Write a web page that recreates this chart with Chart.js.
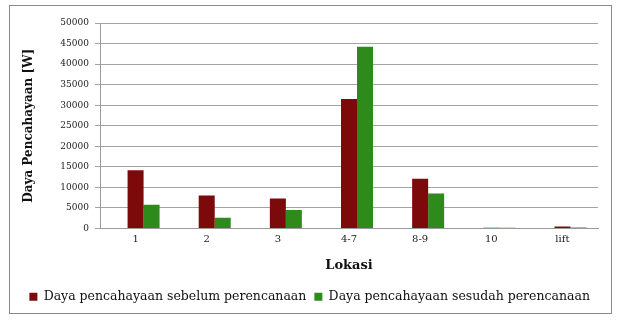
<!DOCTYPE html>
<html><head><meta charset="utf-8">
<script src="https://cdn.jsdelivr.net/npm/chart.js@4/dist/chart.umd.min.js"></script>
<style>html,body{margin:0;padding:0;background:#fff}#wrap{width:621px;height:322px}</style>
</head><body><div id="wrap"><canvas id="c" width="621" height="322"></canvas></div>
<script>
const categories = ['1', '2', '3', '4-7', '8-9', '10', 'lift'];
const sebelum = [14200, 8000, 7300, 31500, 12100, 200, 500];
const sesudah = [5800, 2600, 4500, 44200, 8500, 200, 250];
const spacer = [null, null, null, null, null, null, null];
const seriesNames = ['Daya pencahayaan sebelum perencanaan', 'Daya pencahayaan sesudah perencanaan'];
const yTicks = [0, 5000, 10000, 15000, 20000, 25000, 30000, 35000, 40000, 45000, 50000];

Chart.defaults.font.family = 'DejaVu Serif';

const borderPlugin = {
  id: 'outerBorder',
  beforeDraw(chart) {
    const ctx = chart.ctx;
    ctx.save();
    ctx.fillStyle = '#fff';
    ctx.fillRect(0, 0, chart.width, chart.height);
    ctx.strokeStyle = '#8a8a8a';
    ctx.lineWidth = 1;
    ctx.strokeRect(9.5, 5.5, 602, 308);
    ctx.restore();
  }
};

new Chart(document.getElementById('c'), {
  type: 'bar',
  data: {
    labels: categories,
    datasets: [
      { label: 'spacer', data: spacer, backgroundColor: 'rgba(0,0,0,0)' },
      { label: seriesNames[0], data: sebelum, backgroundColor: '#7c0a0a' },
      { label: seriesNames[1], data: sesudah, backgroundColor: '#2f8a1c' }
    ]
  },
  options: {
    responsive: false,
    animation: false,
    devicePixelRatio: 1,
    layout: { padding: { left: 6, right: 23, top: 23, bottom: 9 } },
    datasets: { bar: { categoryPercentage: 0.675, barPercentage: 1.0 } },
    plugins: {
      legend: {
        position: 'bottom',
        align: 'end',
        maxWidth: 621,
        labels: {
          filter: (item) => item.datasetIndex !== 0,
          boxWidth: 8, boxHeight: 8, padding: 8,
          color: '#111',
          font: { family: 'DejaVu Serif', size: 12.5 }
        }
      },
      tooltip: { enabled: false }
    },
    scales: {
      x: {
        afterFit: (axis) => { axis.height = 54; },
        grid: { display: false },
        border: { display: true, color: '#9a9a9a' },
        ticks: { color: '#222', font: { family: 'DejaVu Serif', size: 10 }, padding: -3 },
        title: { display: true, text: 'Lokasi', color: '#111', font: { family: 'DejaVu Serif', size: 13, weight: 'bold' }, padding: { top: 8, bottom: 9 } }
      },
      y: {
        min: 0, max: 50000,
        afterFit: (axis) => { axis.width = 94; },
        afterBuildTicks: (axis) => { axis.ticks = yTicks.map(v => ({ value: v })); },
        grid: { color: '#a4a4a4', tickLength: 5 },
        border: { display: true, color: '#9a9a9a' },
        ticks: { color: '#222', font: { family: 'DejaVu Serif', size: 9 }, padding: 6, callback: (v) => String(v) },
        title: { display: true, text: 'Daya Pencahayaan [W]', color: '#111', font: { family: 'DejaVu Serif', size: 12, weight: 'bold' }, padding: { top: 16, bottom: 6 } }
      }
    }
  },
  plugins: [borderPlugin]
});
</script>
</body></html>
